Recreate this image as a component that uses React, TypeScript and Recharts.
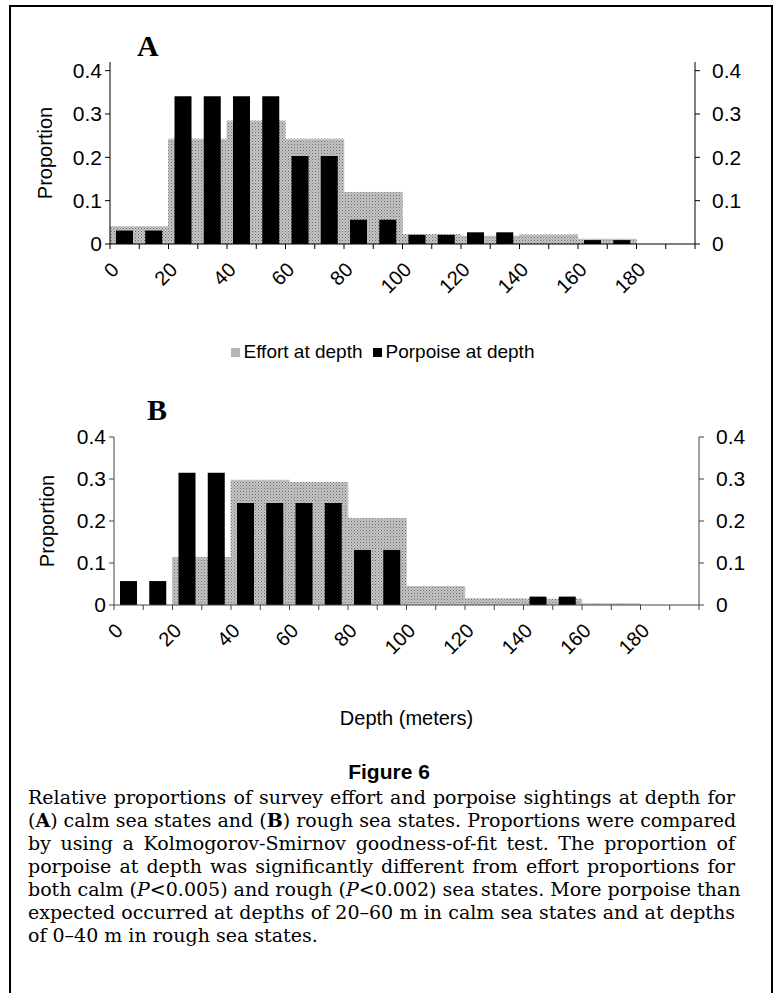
import { BarChart, Bar, XAxis, YAxis, Legend } from "recharts";

// 10 m depth classes (0-10 ... 190-200)
const depthClasses = [0, 10, 20, 30, 40, 50, 60, 70, 80, 90, 100, 110, 120, 130, 140, 150, 160, 170, 180, 190];
const labelEvery = 20; // x labels on the 20 m boundaries
const proportionTicks = [0, 0.1, 0.2, 0.3, 0.4];

// A: calm sea states
const calmEffort = [0.04, 0.04, 0.242, 0.242, 0.284, 0.284, 0.242, 0.242, 0.119, 0.119, 0.022, 0.022, 0.018, 0.018, 0.021, 0.021, 0.011, 0.011, 0, 0];
const calmPorpoise = [0.031, 0.031, 0.341, 0.341, 0.341, 0.341, 0.203, 0.203, 0.056, 0.056, 0.021, 0.021, 0.027, 0.027, 0, 0, 0.009, 0.009, 0, 0];

// B: rough sea states
const roughEffort = [0, 0, 0.113, 0.113, 0.297, 0.297, 0.292, 0.292, 0.206, 0.206, 0.044, 0.044, 0.015, 0.015, 0.014, 0.014, 0.003, 0.003, 0, 0];
const roughPorpoise = [0.057, 0.057, 0.315, 0.315, 0.243, 0.243, 0.243, 0.243, 0.131, 0.131, 0, 0, 0, 0, 0.02, 0.02, 0, 0, 0, 0];

const calmData = depthClasses.map((depth, i) => ({
  depth,
  effort: calmEffort[i],
  porpoise: calmPorpoise[i],
}));
const roughData = depthClasses.map((depth, i) => ({
  depth,
  effort: roughEffort[i],
  porpoise: roughPorpoise[i],
}));

const sans = "'Liberation Sans', Arial, sans-serif";
const serif = "'Liberation Serif', 'Times New Roman', serif";

const CHART_W = 776;
const Y_LEFT_W = 80;
const Y_RIGHT_W = 50;

// excel style: tick marks between classes, rotated labels every 20 m
function DepthTick(props: any) {
  const { x, y, payload, index, half, stroke } = props;
  const left = x - half;
  const last = index === depthClasses.length - 1;
  const px = left + 10;
  const py = y + 27;
  return (
    <g>
      <line x1={left} y1={y} x2={left} y2={y + 5} stroke={stroke} />
      {last && <line x1={x + half} y1={y} x2={x + half} y2={y + 5} stroke={stroke} />}
      {payload.value % labelEvery === 0 && (
        <text
          x={px}
          y={py}
          textAnchor="end"
          fill="#000"
          fontSize={20}
          fontFamily={sans}
          transform={`rotate(-45 ${px} ${py})`}
        >
          {payload.value}
        </text>
      )}
    </g>
  );
}

function EffortPattern({ id }: { id: string }) {
  return (
    <defs>
      <pattern id={id} width="3" height="3" patternUnits="userSpaceOnUse">
        <rect width="3" height="3" fill="#c6c6c6" />
        <rect width="1" height="1" fill="#6a6a6a" />
        <rect x="1.5" y="1.5" width="1" height="1" fill="#858585" />
      </pattern>
    </defs>
  );
}

type PanelProps = {
  data: { depth: number; effort: number; porpoise: number }[];
  yMax: number;
  height: number;
  margin: { top: number; right: number; left: number; bottom: number };
  axisColor: string;
  labelOffset: number;
  patternId: string;
  xAxisHeight: number;
  legend?: boolean;
  xLabel?: string;
};

function DepthPanel({
  data,
  yMax,
  height,
  margin,
  axisColor,
  labelOffset,
  patternId,
  xAxisHeight,
  legend,
  xLabel,
}: PanelProps) {
  const tickStyle = { fill: "#000", fontSize: 21, fontFamily: sans };
  const plotW = CHART_W - margin.left - margin.right - Y_LEFT_W - Y_RIGHT_W;
  const half = plotW / depthClasses.length / 2;
  return (
    <BarChart width={CHART_W} height={height} data={data} margin={margin} barCategoryGap={0} barGap={0}>
      <EffortPattern id={patternId} />
      <XAxis
        xAxisId="c"
        dataKey="depth"
        interval={0}
        tickLine={false}
        tickSize={0}
        tickMargin={0}
        tick={<DepthTick half={half} stroke={axisColor} />}
        height={xAxisHeight}
        stroke={axisColor}
        label={
          xLabel
            ? { value: xLabel, position: "insideBottom", offset: 4, fill: "#000", fontSize: 20, fontFamily: sans }
            : undefined
        }
      />
      <XAxis xAxisId="e" dataKey="depth" hide height={0} />
      <YAxis
        yAxisId="l"
        domain={[0, yMax]}
        allowDataOverflow
        ticks={proportionTicks}
        interval={0}
        width={Y_LEFT_W}
        tickSize={5}
        tickMargin={3}
        tick={tickStyle}
        stroke={axisColor}
        label={{
          value: "Proportion",
          angle: -90,
          position: "insideLeft",
          offset: labelOffset,
          fill: "#000",
          fontSize: 20,
          fontFamily: sans,
          style: { textAnchor: "middle" },
        }}
      />
      <YAxis
        yAxisId="r"
        orientation="right"
        domain={[0, yMax]}
        allowDataOverflow
        ticks={proportionTicks}
        interval={0}
        width={Y_RIGHT_W}
        tickSize={5}
        tickMargin={12}
        tick={tickStyle}
        stroke={axisColor}
      />
      <Bar
        xAxisId="e"
        yAxisId="l"
        dataKey="effort"
        name="Effort at depth"
        fill={`url(#${patternId})`}
        stroke={`url(#${patternId})`}
        strokeWidth={0.8}
        legendType="square"
        isAnimationActive={false}
      />
      <Bar
        xAxisId="c"
        yAxisId="l"
        dataKey="porpoise"
        name="Porpoise at depth"
        fill="#000"
        barSize={17}
        legendType="square"
        isAnimationActive={false}
      />
      {legend && (
        <Legend
          verticalAlign="middle"
          align="center"
          layout="horizontal"
          iconType="square"
          iconSize={9}
          wrapperStyle={{ top: 341, fontSize: 19, fontFamily: sans }}
          formatter={(value) => <span style={{ color: "#000" }}>{value}</span>}
        />
      )}
    </BarChart>
  );
}

const captionLines = [
  <>Relative proportions of survey effort and porpoise sightings at depth for</>,
  <>
    (<b>A</b>) calm sea states and (<b>B</b>) rough sea states. Proportions were compared
  </>,
  <>by using a Kolmogorov-Smirnov goodness-of-fit test. The proportion of</>,
  <>porpoise at depth was significantly different from effort proportions for</>,
  <>
    both calm (<i>P</i>&lt;0.005) and rough (<i>P</i>&lt;0.002) sea states. More porpoise than
  </>,
  <>expected occurred at depths of 20–60 m in calm sea states and at depths</>,
  <>of 0–40 m in rough sea states.</>,
];

export default function App() {
  return (
    <div
      style={{
        position: "absolute",
        left: 0,
        top: 0,
        width: 776,
        height: 993,
        overflow: "hidden",
        background: "#fff",
        fontFamily: sans,
      }}
    >
      {/* figure frame, open at the bottom */}
      <div
        style={{
          position: "absolute",
          left: 9,
          top: 5,
          width: 764,
          height: 992,
          boxSizing: "border-box",
          border: "2px solid #000",
          borderBottom: "none",
        }}
      />

      <div style={{ position: "absolute", left: 0, top: 0 }}>
        <DepthPanel
          data={calmData}
          yMax={0.42}
          height={380}
          margin={{ top: 62, right: 31, left: 30, bottom: 86 }}
          axisColor="#000"
          labelOffset={15}
          patternId="effortCalm"
          xAxisHeight={50}
          legend
        />
      </div>
      <div style={{ position: "absolute", left: 0, top: 380 }}>
        <DepthPanel
          data={roughData}
          yMax={0.4}
          height={360}
          margin={{ top: 57, right: 27, left: 34, bottom: 11 }}
          axisColor="#444"
          labelOffset={13}
          patternId="effortRough"
          xAxisHeight={124}
          xLabel="Depth (meters)"
        />
      </div>

      <div style={{ position: "absolute", left: 137, top: 31, fontFamily: serif, fontWeight: 700, fontSize: 30, lineHeight: 1 }}>
        A
      </div>
      <div style={{ position: "absolute", left: 147, top: 395, fontFamily: serif, fontWeight: 700, fontSize: 30, lineHeight: 1 }}>
        B
      </div>

      <div
        style={{
          position: "absolute",
          left: 0,
          top: 760,
          width: 778,
          textAlign: "center",
          fontWeight: 700,
          fontSize: 21,
          lineHeight: "24px",
        }}
      >
        Figure 6
      </div>

      <div
        style={{
          position: "absolute",
          left: 28,
          top: 786,
          width: 707,
          fontFamily: "'DejaVu Serif', serif",
          fontSize: 19,
          lineHeight: "23px",
          color: "#000",
        }}
      >
        {captionLines.map((line, i) => (
          <div
            key={i}
            style={{
              whiteSpace: "nowrap",
              textAlign: i < captionLines.length - 1 ? "justify" : "left",
              textAlignLast: i < captionLines.length - 1 ? "justify" : "left",
            }}
          >
            {line}
          </div>
        ))}
      </div>
    </div>
  );
}
